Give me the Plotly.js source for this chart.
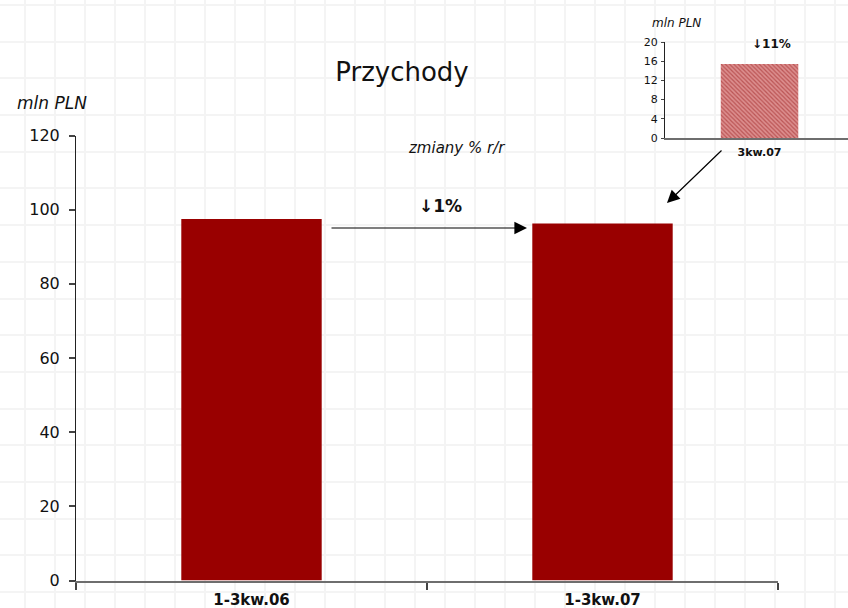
<!DOCTYPE html>
<html>
<head>
<meta charset="utf-8">
<script src="https://cdn.plot.ly/plotly-3.0.1.min.js"></script>
<style>html,body{margin:0;padding:0;background:#fff;}#chart{width:848px;height:608px;}</style>
</head>
<body>
<div id="chart"></div>
<script>
// Main chart data
const categories = ["1-3kw.06", "1-3kw.07"];
const revenue = [97.5, 96.3];
const mainTicks = [0, 20, 40, 60, 80, 100, 120];
// Inset chart data
const insetCategories = ["3kw.07"];
const insetRevenue = [15.4];
const insetTicks = [0, 4, 8, 12, 16, 20];
// Texts
const titleText = "Przychody";
const unitText = "mln PLN";
const changeLabel = "zmiany % r/r";
const mainChange = "\u21931%";
const insetChange = "\u219311%";

const W = 848, H = 608;
const px = v => v / W;
const py = v => (H - v) / H;

const traces = [
  // background graph-paper grid (empty subplot)
  {type: 'scatter', x: [], y: [], xaxis: 'x', yaxis: 'y', hoverinfo: 'skip', showlegend: false},
  {type: 'bar', x: categories, y: revenue, xaxis: 'x2', yaxis: 'y2', width: 0.4,
   marker: {color: '#990000', line: {width: 0}}, hoverinfo: 'skip', showlegend: false},
  {type: 'bar', x: insetCategories, y: insetRevenue, xaxis: 'x3', yaxis: 'y3', width: 0.41,
   marker: {color: '#d27a7a', line: {width: 0},
            pattern: {shape: '\\', fgcolor: '#bb5555', bgcolor: '#dc8e8e', size: 3, solidity: 0.4}},
   hoverinfo: 'skip', showlegend: false}
];

const layout = {
  width: W, height: H,
  margin: {l: 0, r: 0, t: 0, b: 0},
  paper_bgcolor: '#ffffff',
  plot_bgcolor: 'rgba(0,0,0,0)',
  showlegend: false,
  font: {family: 'DejaVu Sans, Verdana, sans-serif', color: '#000'},
  title: {text: titleText, x: px(402), y: py(72), xanchor: 'center', yanchor: 'middle',
          font: {family: 'DejaVu Sans, sans-serif', size: 26, color: '#111'}},
  // grid subplot
  xaxis: {domain: [0, 1], range: [0, W], showgrid: true, gridcolor: '#f4f4f4', gridwidth: 2,
          tick0: 25, dtick: 30, showticklabels: false, zeroline: false, showline: false, ticks: '',
          fixedrange: true},
  yaxis: {domain: [0, 1], range: [H, 0], showgrid: true, gridcolor: '#f4f4f4', gridwidth: 2,
          tick0: 115, dtick: 36.7, showticklabels: false, zeroline: false, showline: false, ticks: '',
          fixedrange: true},
  // main chart
  xaxis2: {domain: [px(76), px(778)], anchor: 'y2', type: 'category',
           showgrid: false, zeroline: false, showline: true, linecolor: '#6e6e6e', linewidth: 2,
           ticks: 'outside', tickson: 'boundaries', ticklen: 7, tickwidth: 2, tickcolor: '#444',
           tickfont: {size: 15, weight: 'bold', color: '#111'}, ticklabelstandoff: 4},
  yaxis2: {domain: [py(580.5), py(135.5)], anchor: 'x2', range: [0, 120],
           tickvals: mainTicks, showgrid: false, zeroline: false,
           showline: true, linecolor: '#222', linewidth: 1,
           ticks: 'outside', ticklen: 6, tickcolor: '#444', tickwidth: 2,
           tickfont: {size: 16, color: '#111'}, ticklabelstandoff: 6},
  // inset chart
  xaxis3: {domain: [px(665), 1], anchor: 'y3', type: 'category', range: [-0.5, 0.468],
           showgrid: false, zeroline: false, showline: true, linecolor: '#6e6e6e', linewidth: 2,
           ticks: '', tickfont: {size: 11, weight: 'bold', color: '#111'}, ticklabelstandoff: 3},
  yaxis3: {domain: [py(138), py(42)], anchor: 'x3', range: [0, 20],
           tickvals: insetTicks, showgrid: false, zeroline: false,
           showline: true, linecolor: '#222', linewidth: 1,
           ticks: 'outside', ticklen: 3, tickcolor: '#444',
           tickfont: {size: 11, color: '#111'}, ticklabelstandoff: 1},
  annotations: [
    {text: unitText, xref: 'paper', yref: 'paper', x: px(52), y: py(103), showarrow: false,
     xanchor: 'center', yanchor: 'middle', font: {size: 17, style: 'italic', color: '#111'}},
    {text: changeLabel, xref: 'paper', yref: 'paper', x: px(457), y: py(148), showarrow: false,
     xanchor: 'center', yanchor: 'middle', font: {size: 15, style: 'italic', color: '#111'}},
    {text: mainChange, xref: 'paper', yref: 'paper', x: px(441), y: py(206), showarrow: false,
     xanchor: 'center', yanchor: 'middle', font: {size: 17, weight: 'bold', color: '#111'}},
    {text: unitText, xref: 'paper', yref: 'paper', x: px(676), y: py(23), showarrow: false,
     xanchor: 'center', yanchor: 'middle', font: {size: 12, style: 'italic', color: '#111'}},
    {text: insetChange, xref: 'paper', yref: 'paper', x: px(771), y: py(44), showarrow: false,
     xanchor: 'center', yanchor: 'middle', font: {size: 12, weight: 'bold', color: '#111'}},
    // horizontal arrow between bars
    {text: '', xref: 'paper', yref: 'paper', x: px(527), y: py(228), ax: -197, ay: 0,
     showarrow: true, arrowhead: 2, arrowsize: 2.1, arrowwidth: 1.2, arrowcolor: '#000'},
    // diagonal arrow from inset to main bar
    {text: '', xref: 'paper', yref: 'paper', x: px(667), y: py(203), ax: 56, ay: -54,
     showarrow: true, arrowhead: 2, arrowsize: 2.1, arrowwidth: 1.2, arrowcolor: '#000'}
  ]
};

Plotly.newPlot('chart', traces, layout, {staticPlot: true, displayModeBar: false});
</script>
</body>
</html>
